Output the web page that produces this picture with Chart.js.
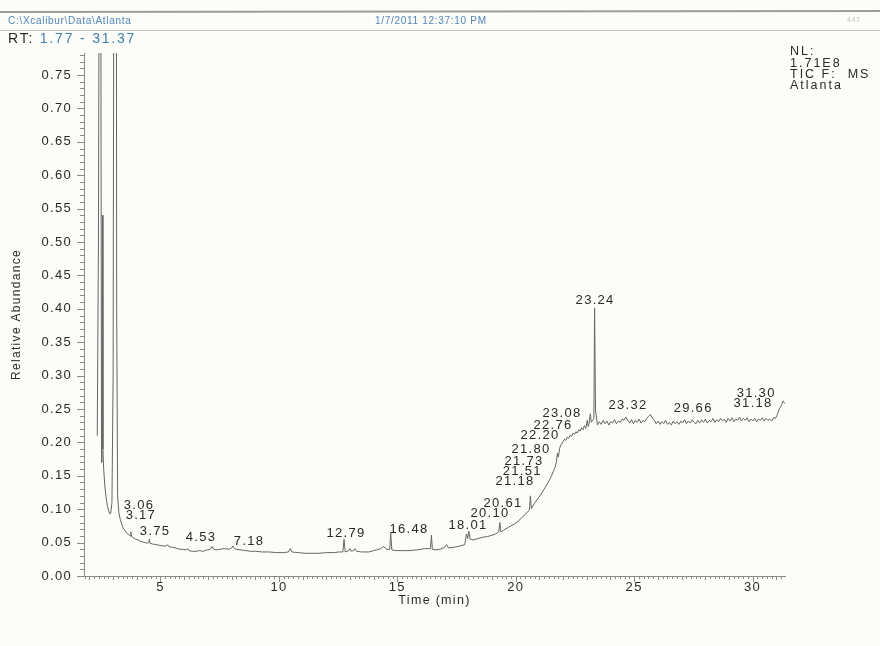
<!DOCTYPE html>
<html>
<head>
<meta charset="utf-8">
<title>TIC Atlanta</title>
<script src="https://cdn.jsdelivr.net/npm/chart.js@4.4.1/dist/chart.umd.min.js"></script>
<style>
  html, body { margin: 0; padding: 0; background: #fcfcf9; }
  canvas { display: block; }
</style>
</head>
<body>
<canvas id="tic" width="880" height="646"></canvas>
<script>
// retention time (min) / relative abundance in pieces
const rtSolvent = [2.33, 2.38, 2.42, 2.45, 2.48, 2.51, 2.53, 2.55, 2.57, 2.60, 2.65, 2.70, 2.76, 2.82, 2.86, 2.90, 2.95,
  3.00, 3.04, 3.08, 3.12, 3.15, 3.19, 3.24, 3.30, 3.36];
const abSolvent = [0.21, 0.50, 1.10, 1.60, 0.90, 0.17, 0.20, 0.54, 0.19, 0.16, 0.135, 0.118, 0.105, 0.097, 0.093, 0.094, 0.11,
  0.30, 1.20, 2.50, 1.50, 0.40, 0.12, 0.095, 0.085, 0.078];

const rtBaseline = [3.42, 3.50, 3.58, 3.66, 3.72, 3.75, 3.78, 3.86, 3.95, 4.05, 4.15, 4.25, 4.35, 4.45, 4.50, 4.53, 4.56,
  4.65, 4.80, 4.95, 5.10, 5.25, 5.30, 5.35, 5.50, 5.65, 5.80, 5.95, 6.10, 6.15, 6.20, 6.35, 6.50, 6.65, 6.80, 6.95,
  7.10, 7.18, 7.24, 7.35, 7.50, 7.70, 7.90, 8.00, 8.06, 8.12, 8.20, 8.40, 8.60, 8.80, 9.00, 9.30, 9.60, 9.90, 10.20,
  10.40, 10.48, 10.55, 10.80, 11.10, 11.40, 11.70, 12.00, 12.30, 12.55, 12.70, 12.75, 12.80, 12.95, 13.00, 13.06,
  13.15, 13.21, 13.28, 13.50, 13.80, 14.00, 14.13, 14.30, 14.42, 14.55, 14.68, 14.72, 14.77, 14.95, 15.20, 15.50,
  15.80, 16.00, 16.15, 16.30, 16.40, 16.44, 16.48, 16.60, 16.80, 17.00, 17.08, 17.16, 17.40, 17.65, 17.85, 17.92,
  17.97, 18.02, 18.08, 18.20, 18.40, 18.60, 18.80];
const abBaseline = [0.072, 0.068, 0.064, 0.062, 0.060, 0.066, 0.059, 0.057, 0.055, 0.054, 0.052, 0.051, 0.050, 0.049, 0.050, 0.055, 0.049,
  0.048, 0.047, 0.046, 0.045, 0.045, 0.047, 0.044, 0.043, 0.042, 0.040, 0.040, 0.039, 0.041, 0.038, 0.037, 0.037, 0.038, 0.037, 0.039,
  0.040, 0.044, 0.040, 0.039, 0.040, 0.041, 0.040, 0.042, 0.045, 0.041, 0.040, 0.039, 0.038, 0.037, 0.037, 0.036, 0.036, 0.035, 0.035,
  0.036, 0.041, 0.036, 0.035, 0.034, 0.034, 0.034, 0.035, 0.035, 0.036, 0.036, 0.055, 0.036, 0.038, 0.041, 0.037,
  0.038, 0.041, 0.037, 0.036, 0.036, 0.038, 0.039, 0.041, 0.044, 0.040, 0.040, 0.064, 0.039, 0.038, 0.038, 0.038,
  0.039, 0.040, 0.041, 0.041, 0.041, 0.061, 0.040, 0.039, 0.040, 0.043, 0.047, 0.042, 0.043, 0.045, 0.047, 0.063,
  0.056, 0.067, 0.055, 0.054, 0.056, 0.058, 0.059];

const rtRise = [19.00, 19.15, 19.28, 19.33, 19.37, 19.50, 19.65, 19.80, 19.95, 20.10, 20.25, 20.40, 20.52, 20.58, 20.62,
  20.66, 20.78, 20.90, 21.02, 21.15, 21.28, 21.40, 21.50, 21.58, 21.66, 21.72, 21.76, 21.80, 21.86, 21.92, 22.00,
  22.06, 22.12, 22.18, 22.24, 22.30, 22.36, 22.42, 22.48, 22.54, 22.60, 22.66, 22.72, 22.78, 22.84, 22.90, 22.96,
  23.02, 23.06, 23.10, 23.15, 23.19, 23.25, 23.30, 23.33, 23.37, 23.41];
const abRise = [0.061, 0.063, 0.066, 0.080, 0.066, 0.069, 0.072, 0.075, 0.078, 0.082, 0.087, 0.092, 0.097, 0.099, 0.120,
  0.101, 0.108, 0.114, 0.120, 0.127, 0.135, 0.142, 0.149, 0.156, 0.163, 0.171, 0.184, 0.178, 0.192, 0.197, 0.201,
  0.205, 0.203, 0.208, 0.206, 0.211, 0.209, 0.214, 0.212, 0.216, 0.214, 0.219, 0.217, 0.222, 0.219, 0.225, 0.221,
  0.233, 0.224, 0.229, 0.243, 0.230, 0.233, 0.236, 0.401, 0.247, 0.238];

const rtPlateau = [23.45, 23.53, 23.61, 23.69, 23.77, 23.85, 23.93, 24.01, 24.09, 24.17, 24.25, 24.33, 24.41, 24.49,
  24.57, 24.65, 24.73, 24.81, 24.89, 24.97, 25.05, 25.13, 25.21, 25.29, 25.37, 25.45, 25.53, 25.61, 25.69, 25.77,
  25.85, 25.93, 26.01, 26.09, 26.17, 26.25, 26.33, 26.41, 26.49, 26.57, 26.65, 26.73, 26.81, 26.89, 26.97, 27.05,
  27.13, 27.21, 27.29, 27.37, 27.45, 27.53, 27.61, 27.69, 27.77, 27.85, 27.93, 28.01, 28.09, 28.17, 28.25, 28.33,
  28.41, 28.49, 28.57, 28.65, 28.73, 28.81, 28.89, 28.97, 29.05, 29.13, 29.21, 29.29, 29.37, 29.45, 29.53, 29.61,
  29.69, 29.77, 29.85, 29.93, 30.01, 30.09, 30.17, 30.25, 30.33, 30.41, 30.49, 30.57, 30.65, 30.73, 30.81, 30.89,
  30.97, 31.05, 31.13, 31.21, 31.29, 31.37];
const abPlateau = [0.226, 0.231, 0.227, 0.233, 0.228, 0.232, 0.226, 0.231, 0.229, 0.234, 0.228, 0.232, 0.230, 0.235,
  0.233, 0.238, 0.233, 0.229, 0.234, 0.228, 0.233, 0.230, 0.235, 0.229, 0.233, 0.231, 0.236, 0.239, 0.242, 0.236,
  0.233, 0.228, 0.232, 0.227, 0.231, 0.228, 0.233, 0.227, 0.230, 0.226, 0.232, 0.228, 0.231, 0.227, 0.232, 0.229,
  0.234, 0.228, 0.232, 0.229, 0.234, 0.230, 0.228, 0.233, 0.229, 0.234, 0.230, 0.235, 0.229, 0.233, 0.231, 0.236,
  0.230, 0.234, 0.231, 0.236, 0.232, 0.235, 0.230, 0.236, 0.232, 0.237, 0.231, 0.235, 0.233, 0.238, 0.232, 0.236,
  0.233, 0.237, 0.231, 0.235, 0.232, 0.236, 0.231, 0.235, 0.233, 0.237, 0.232, 0.236, 0.233, 0.235, 0.232, 0.237,
  0.236, 0.242, 0.250, 0.255, 0.262, 0.258];

// peak annotations: text, and where the label sits (time, abundance)
const peakTexts = ["3.06", "3.17", "3.75", "4.53", "7.18", "12.79", "16.48", "18.01", "20.10", "20.61",
  "21.18", "21.51", "21.73", "21.80", "22.20", "22.76", "23.08", "23.24", "23.32", "29.66", "31.30", "31.18"];
const peakLabelRt = [4.05, 4.13, 4.73, 6.67, 8.70, 12.79, 15.45, 17.94, 18.87, 19.42,
  19.93, 20.23, 20.31, 20.60, 20.98, 21.53, 21.91, 23.31, 24.70, 27.45, 30.11, 29.98];
const peakLabelAb = [0.106, 0.090, 0.067, 0.058, 0.052, 0.064, 0.069, 0.075, 0.094, 0.109,
  0.142, 0.156, 0.172, 0.190, 0.210, 0.226, 0.243, 0.412, 0.256, 0.251, 0.274, 0.259];

const xTickValues = [5, 10, 15, 20, 25, 30];
const yTickValues = [0, 0.05, 0.10, 0.15, 0.20, 0.25, 0.30, 0.35, 0.40, 0.45, 0.50, 0.55, 0.60, 0.65, 0.70, 0.75];
const rtRange = [1.77, 31.37];
const yTop = 0.783;

const rt = [].concat(rtSolvent, rtBaseline, rtRise, rtPlateau);
const ab = [].concat(abSolvent, abBaseline, abRise, abPlateau);
const points = rt.map((t, i) => ({ x: t, y: ab[i] }));

const INK = "#2a2a2a";
const BLUE = "#3f80b8";
const FONT = "'Liberation Sans', Arial, sans-serif";

const scanPlugin = {
  id: "scan",
  beforeDraw(chart) {
    const { ctx, width, height } = chart;
    ctx.save();
    ctx.fillStyle = "#fcfcf9";
    ctx.fillRect(0, 0, width, height);
    ctx.restore();
    ctx.letterSpacing = "1.3px"; // printout is widely spaced
  },
  afterDatasetsDraw(chart) {
    const { ctx } = chart;
    const xs = chart.scales.x, ys = chart.scales.y;
    ctx.save();
    ctx.font = "13px " + FONT;
    ctx.letterSpacing = "1.3px";
    ctx.fillStyle = INK;
    ctx.textAlign = "center";
    ctx.textBaseline = "middle";
    peakTexts.forEach((txt, i) => {
      ctx.fillText(txt, xs.getPixelForValue(peakLabelRt[i]) + 1, ys.getPixelForValue(peakLabelAb[i]));
    });
    ctx.restore();
  },
  afterDraw(chart) {
    const { ctx, chartArea } = chart;
    const xs = chart.scales.x, ys = chart.scales.y;
    ctx.save();
    // minor/major ticks
    ctx.strokeStyle = "#8a8a8a";
    ctx.lineWidth = 1;
    ctx.beginPath();
    for (let i = 0; i <= 78; i++) {
      const y = Math.round(ys.getPixelForValue(i / 100)) + 0.5;
      const len = i % 5 === 0 ? 7 : 4;
      ctx.moveTo(chartArea.left - len, y);
      ctx.lineTo(chartArea.left, y);
    }
    for (let i = 9; i <= 156; i++) {
      const x = Math.round(xs.getPixelForValue(i / 5)) + 0.5;
      const len = i % 25 === 0 ? 6 : (i % 5 === 0 ? 4 : 3);
      ctx.moveTo(x, chartArea.bottom);
      ctx.lineTo(x, chartArea.bottom + len);
    }
    ctx.stroke();

    // page header
    ctx.strokeStyle = "#9c9c9c";
    ctx.lineWidth = 2;
    ctx.beginPath(); ctx.moveTo(0, 12); ctx.lineTo(880, 11); ctx.stroke();
    ctx.strokeStyle = "#c4c4c4";
    ctx.lineWidth = 1;
    ctx.beginPath(); ctx.moveTo(0, 30.5); ctx.lineTo(880, 30.5); ctx.stroke();

    ctx.textBaseline = "middle";
    ctx.textAlign = "left";
    ctx.font = "10px " + FONT;
    ctx.letterSpacing = "0.7px";
    ctx.fillStyle = "#4f87c0";
    ctx.fillText("C:\\Xcalibur\\Data\\Atlanta", 8, 21);
    ctx.fillText("1/7/2011 12:37:10 PM", 375, 21);
    ctx.fillStyle = "#c2c2c2";
    ctx.font = "7px " + FONT;
    ctx.fillText("447", 847, 20);

    ctx.font = "14px " + FONT;
    ctx.letterSpacing = "1.8px";
    ctx.fillStyle = INK;
    ctx.fillText("RT:", 8, 39);
    const rtW = ctx.measureText("RT: ").width;
    ctx.fillStyle = BLUE;
    ctx.fillText("1.77 - 31.37", 8 + rtW, 39);

    ctx.fillStyle = INK;
    ctx.font = "12.5px " + FONT;
    ctx.letterSpacing = "2px";
    ["NL:", "1.71E8", "TIC F:  MS", "Atlanta"].forEach((s, i) => {
      ctx.fillText(s, 790, 52 + i * 11.3);
    });
    ctx.restore();
  }
};

new Chart(document.getElementById("tic").getContext("2d"), {
  type: "line",
  data: {
    datasets: [{
      data: points,
      borderColor: "#666666",
      borderWidth: 1,
      pointRadius: 0,
      tension: 0,
      fill: false
    }]
  },
  options: {
    responsive: false,
    animation: false,
    layout: { padding: { top: 53, right: 95, left: 0, bottom: 0 } },
    plugins: { legend: { display: false }, tooltip: { enabled: false } },
    scales: {
      x: {
        type: "linear",
        min: rtRange[0],
        max: rtRange[1],
        afterFit(s) { s.height = 70; },
        afterBuildTicks(s) { s.ticks = xTickValues.map(v => ({ value: v })); },
        grid: { drawOnChartArea: false, drawTicks: false },
        border: { display: true, color: "#8a8a8a", width: 1 },
        ticks: { autoSkip: false, maxRotation: 0, padding: 4, color: INK, font: { family: FONT, size: 13 }, callback: v => String(v) },
        title: { display: true, text: "Time (min)", color: INK, font: { family: FONT, size: 12.5 }, padding: { top: 0, bottom: 38 } }
      },
      y: {
        min: 0,
        max: yTop,
        afterFit(s) { s.width = 84; },
        afterBuildTicks(s) { s.ticks = yTickValues.map(v => ({ value: v })); },
        grid: { drawOnChartArea: false, drawTicks: false },
        border: { display: true, color: "#8a8a8a", width: 1 },
        ticks: { autoSkip: false, padding: 12, color: INK, font: { family: FONT, size: 13 }, callback: v => v.toFixed(2) },
        title: { display: true, text: "Relative Abundance", color: INK, font: { family: "'Liberation Sans Narrow', 'Arial Narrow', sans-serif", size: 12 }, padding: { top: 9 } }
      }
    }
  },
  plugins: [scanPlugin]
});
</script>
</body>
</html>
